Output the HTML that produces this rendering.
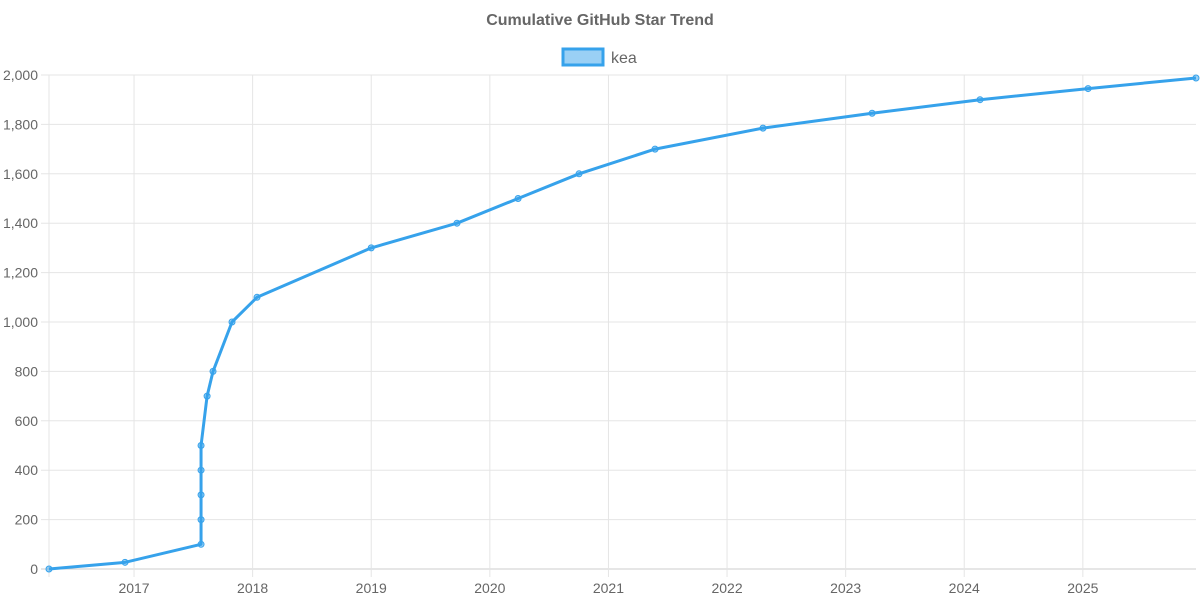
<!DOCTYPE html>
<html><head><meta charset="utf-8"><style>
body{margin:0;background:#fff;font-family:"Liberation Sans",sans-serif;}
svg text{font-family:"Liberation Sans",sans-serif;}
</style></head><body>
<svg id="chart" width="1200" height="600">
<text x="600" y="25" text-anchor="middle" font-size="16" font-weight="bold" fill="#666">Cumulative GitHub Star Trend</text>
<g>
<rect x="563" y="49" width="40" height="16" fill="rgba(54,162,235,0.5)" stroke="#36a2eb" stroke-width="3"/>
<text x="611" y="63" font-size="16" fill="#666">kea</text>
</g>
<g id="grid"></g><g id="axes"></g><g id="series"></g>
</svg>
<script>
const dates = [2016.283,2016.924,2017.565,2017.565,2017.565,2017.565,2017.565,2017.616,2017.666,2017.826,2018.037,2019.0,2019.723,2020.238,2020.752,2021.393,2022.303,2023.223,2024.133,2025.044,2025.954];
const stars = [0,27,100,200,300,400,500,700,800,1000,1100,1300,1400,1500,1600,1700,1785,1845,1900,1945,1988];
const yTicks = [0,200,400,600,800,1000,1200,1400,1600,1800,2000];
const xTicks = [2017,2018,2019,2020,2021,2022,2023,2024,2025];
const X0=49,X1=1196,Y0=569,Y1=75,D0=2016.283,D1=2025.954;
const xs=d=>X0+(d-D0)/(D1-D0)*(X1-X0);
const ys=v=>Y0-v/2000*(Y0-Y1);
const NS="http://www.w3.org/2000/svg";
function mk(t,a,p){const e=document.createElementNS(NS,t);for(const k in a)e.setAttribute(k,a[k]);p.appendChild(e);return e;}
const grid=document.getElementById('grid'),axes=document.getElementById('axes'),ser=document.getElementById('series');
yTicks.forEach(v=>{
 const l=mk('line',{x1:X0-8,x2:X1,y1:ys(v),y2:ys(v),stroke:v===0?'#ccc':'#e5e5e5'},grid);
 
 
 const t=mk('text',{x:38,y:ys(v)+5,'text-anchor':'end','font-size':14,fill:'#666'},axes);
 t.textContent=v.toLocaleString('en-US');
 
 
});
mk('line',{x1:X0,x2:X0,y1:Y1,y2:Y0+8,stroke:'#e5e5e5'},grid);
xTicks.forEach(d=>{
 const l=mk('line',{x1:xs(d),x2:xs(d),y1:Y1,y2:Y0+8,stroke:'#e5e5e5'},grid);
 
 
 const t=mk('text',{x:xs(d),y:593,'text-anchor':'middle','font-size':14,fill:'#666'},axes);
 t.textContent=d;
 
 
});
const pts=dates.map((d,i)=>xs(d)+','+ys(stars[i])).join(' ');
const line=mk('polyline',{points:pts,fill:'none',stroke:'#36a2eb','stroke-width':3,'stroke-linejoin':'round'},ser);


dates.forEach((d,i)=>{
 const c=mk('circle',{cx:xs(d),cy:ys(stars[i]),r:3,fill:'rgba(54,162,235,0.5)',stroke:'#36a2eb','stroke-width':1},ser);
 
 
});
</script>
</body></html>
